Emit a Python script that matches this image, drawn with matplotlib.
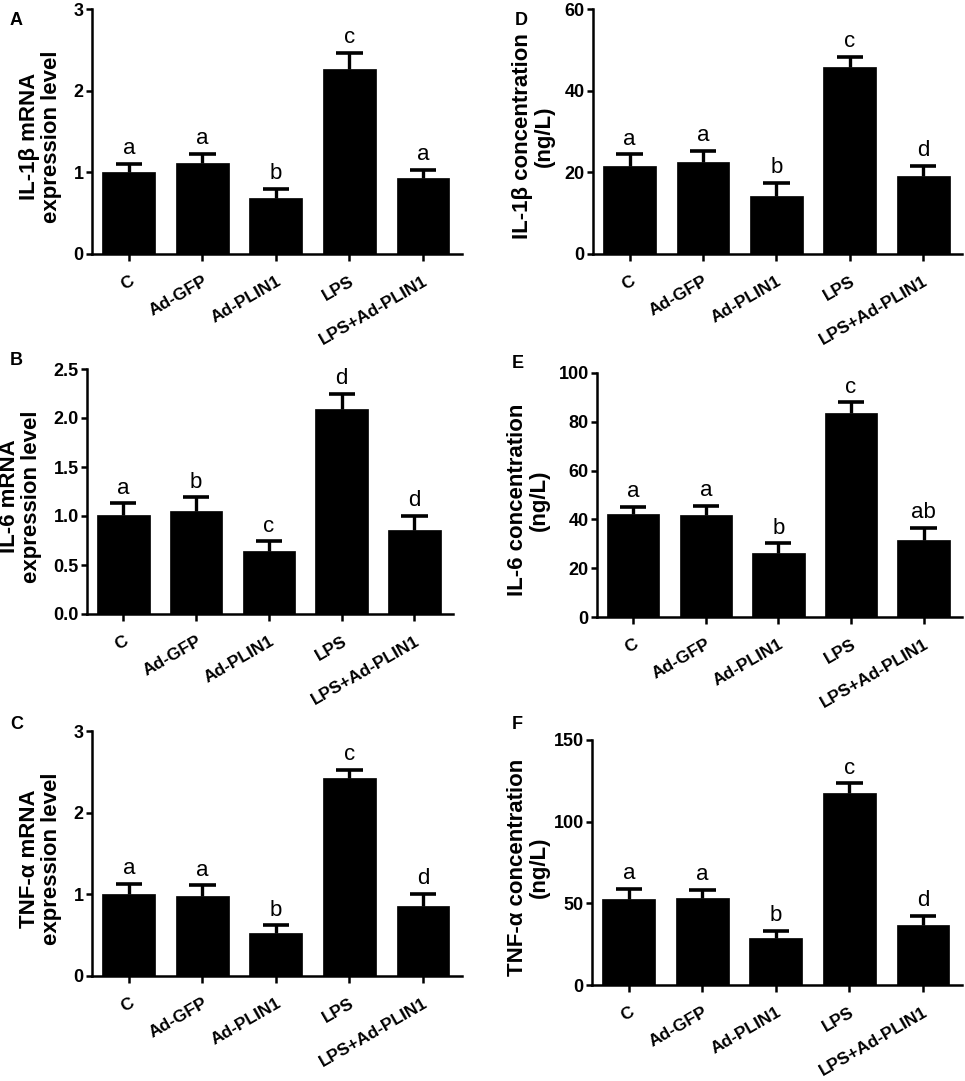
import matplotlib
matplotlib.use("Agg")
import matplotlib.pyplot as plt
import matplotlib.transforms as mtransforms
import numpy as np

plt.rcParams['font.family'] = ['Liberation Sans', 'DejaVu Sans']

categories = ['C', 'Ad-GFP', 'Ad-PLIN1', 'LPS', 'LPS+Ad-PLIN1']

il1b_mrna = [1.01, 1.11, 0.69, 2.26, 0.93]
il1b_mrna_err = [0.09, 0.12, 0.11, 0.20, 0.10]
il1b_mrna_letters = ['a', 'a', 'b', 'c', 'a']

il6_mrna = [1.01, 1.05, 0.64, 2.09, 0.86]
il6_mrna_err = [0.12, 0.14, 0.10, 0.16, 0.14]
il6_mrna_letters = ['a', 'b', 'c', 'd', 'd']

tnf_mrna = [1.01, 0.98, 0.53, 2.42, 0.86]
tnf_mrna_err = [0.12, 0.13, 0.09, 0.10, 0.15]
tnf_mrna_letters = ['a', 'a', 'b', 'c', 'd']

il1b_conc = [21.6, 22.6, 14.1, 45.7, 19.0]
il1b_conc_err = [2.8, 2.6, 3.4, 2.5, 2.6]
il1b_conc_letters = ['a', 'a', 'b', 'c', 'd']

il6_conc = [42.2, 41.8, 26.1, 83.6, 31.7]
il6_conc_err = [2.8, 3.8, 4.1, 4.4, 4.9]
il6_conc_letters = ['a', 'a', 'b', 'c', 'ab']

tnf_conc = [52.7, 53.1, 29.0, 117.3, 36.9]
tnf_conc_err = [6.3, 5.1, 4.3, 6.2, 5.5]
tnf_conc_letters = ['a', 'a', 'b', 'c', 'd']

W, H = 965, 1081
fig = plt.figure(figsize=(W / 100, H / 100), dpi=100)


def add_axes(l, r, t, b):
    return fig.add_axes([l / W, 1 - b / H, (r - l) / W, (b - t) / H])


panels = [
    ('A', (92, 462, 9, 254), il1b_mrna, il1b_mrna_err, il1b_mrna_letters,
     'IL-1β mRNA\nexpression level', [0, 1, 2, 3], '{:.0f}', -0.081, (10, 12)),
    ('B', (87, 453, 369, 614), il6_mrna, il6_mrna_err, il6_mrna_letters,
     'IL-6 mRNA\nexpression level', [0, 0.5, 1.0, 1.5, 2.0, 2.5], '{:.1f}', -0.123, (10, 352)),
    ('C', (92, 462, 731, 976), tnf_mrna, tnf_mrna_err, tnf_mrna_letters,
     'TNF-α mRNA\nexpression level', [0, 1, 2, 3], '{:.0f}', -0.081, (10, 716)),
    ('D', (593, 962, 9, 254), il1b_conc, il1b_conc_err, il1b_conc_letters,
     'IL-1β concentration\n(ng/L)', [0, 20, 40, 60], '{:.0f}', -0.103, (515, 12)),
    ('E', (597, 962, 373, 617), il6_conc, il6_conc_err, il6_conc_letters,
     'IL-6 concentration\n(ng/L)', [0, 20, 40, 60, 80, 100], '{:.0f}', -0.129, (512, 355)),
    ('F', (592, 962, 740, 985), tnf_conc, tnf_conc_err, tnf_conc_letters,
     'TNF-α concentration\n(ng/L)', [0, 50, 100, 150], '{:.0f}', -0.114, (512, 716)),
]

x = np.arange(len(categories))

for (plab, box, vals, errs, lets, ylab, yticks, fmt, lx, ppos) in panels:
    ax = add_axes(*box)
    vals = np.asarray(vals)
    errs = np.asarray(errs)
    ax.bar(x, vals, width=0.72, color='black', edgecolor='black', linewidth=0.5, zorder=2)
    ax.vlines(x, vals, vals + errs, color='black', linewidth=2.4, zorder=3)
    ax.hlines(vals + errs, x - 0.18, x + 0.18, color='black', linewidth=2.6, zorder=3)
    for xi, v, e, l in zip(x, vals, errs, lets):
        ax.annotate(l, (xi, v + e), xytext=(0, 7), textcoords='offset points',
                    ha='center', va='baseline', fontsize=16, color='black')
    ax.set_xlim(-0.5, 4.53)
    ax.set_ylim(0, yticks[-1])
    ax.set_yticks(yticks)
    ax.set_yticklabels([fmt.format(t) for t in yticks], fontsize=13, fontweight='bold')
    ax.set_xticks(x)
    ax.set_xticklabels(categories, fontsize=12.5, fontweight='bold', rotation=30,
                       ha='right', va='top', rotation_mode='anchor')
    offset = mtransforms.ScaledTranslation(4 / 100, 0, fig.dpi_scale_trans)
    for lbl in ax.get_xticklabels():
        lbl.set_transform(lbl.get_transform() + offset)
    ax.tick_params(axis='x', length=5, width=1.8, pad=9)
    ax.tick_params(axis='y', length=4, width=1.8, pad=2)
    for s in ['top', 'right']:
        ax.spines[s].set_visible(False)
    for s in ['left', 'bottom']:
        ax.spines[s].set_linewidth(1.8)
    ax.set_ylabel(ylab, fontsize=16, fontweight='bold', linespacing=1.05)
    ax.yaxis.set_label_coords(lx, 0.48)
    fig.text(ppos[0] / W, 1 - ppos[1] / H, plab, fontsize=13, fontweight='bold',
             ha='left', va='top')

fig.savefig('out.png', dpi=100)
